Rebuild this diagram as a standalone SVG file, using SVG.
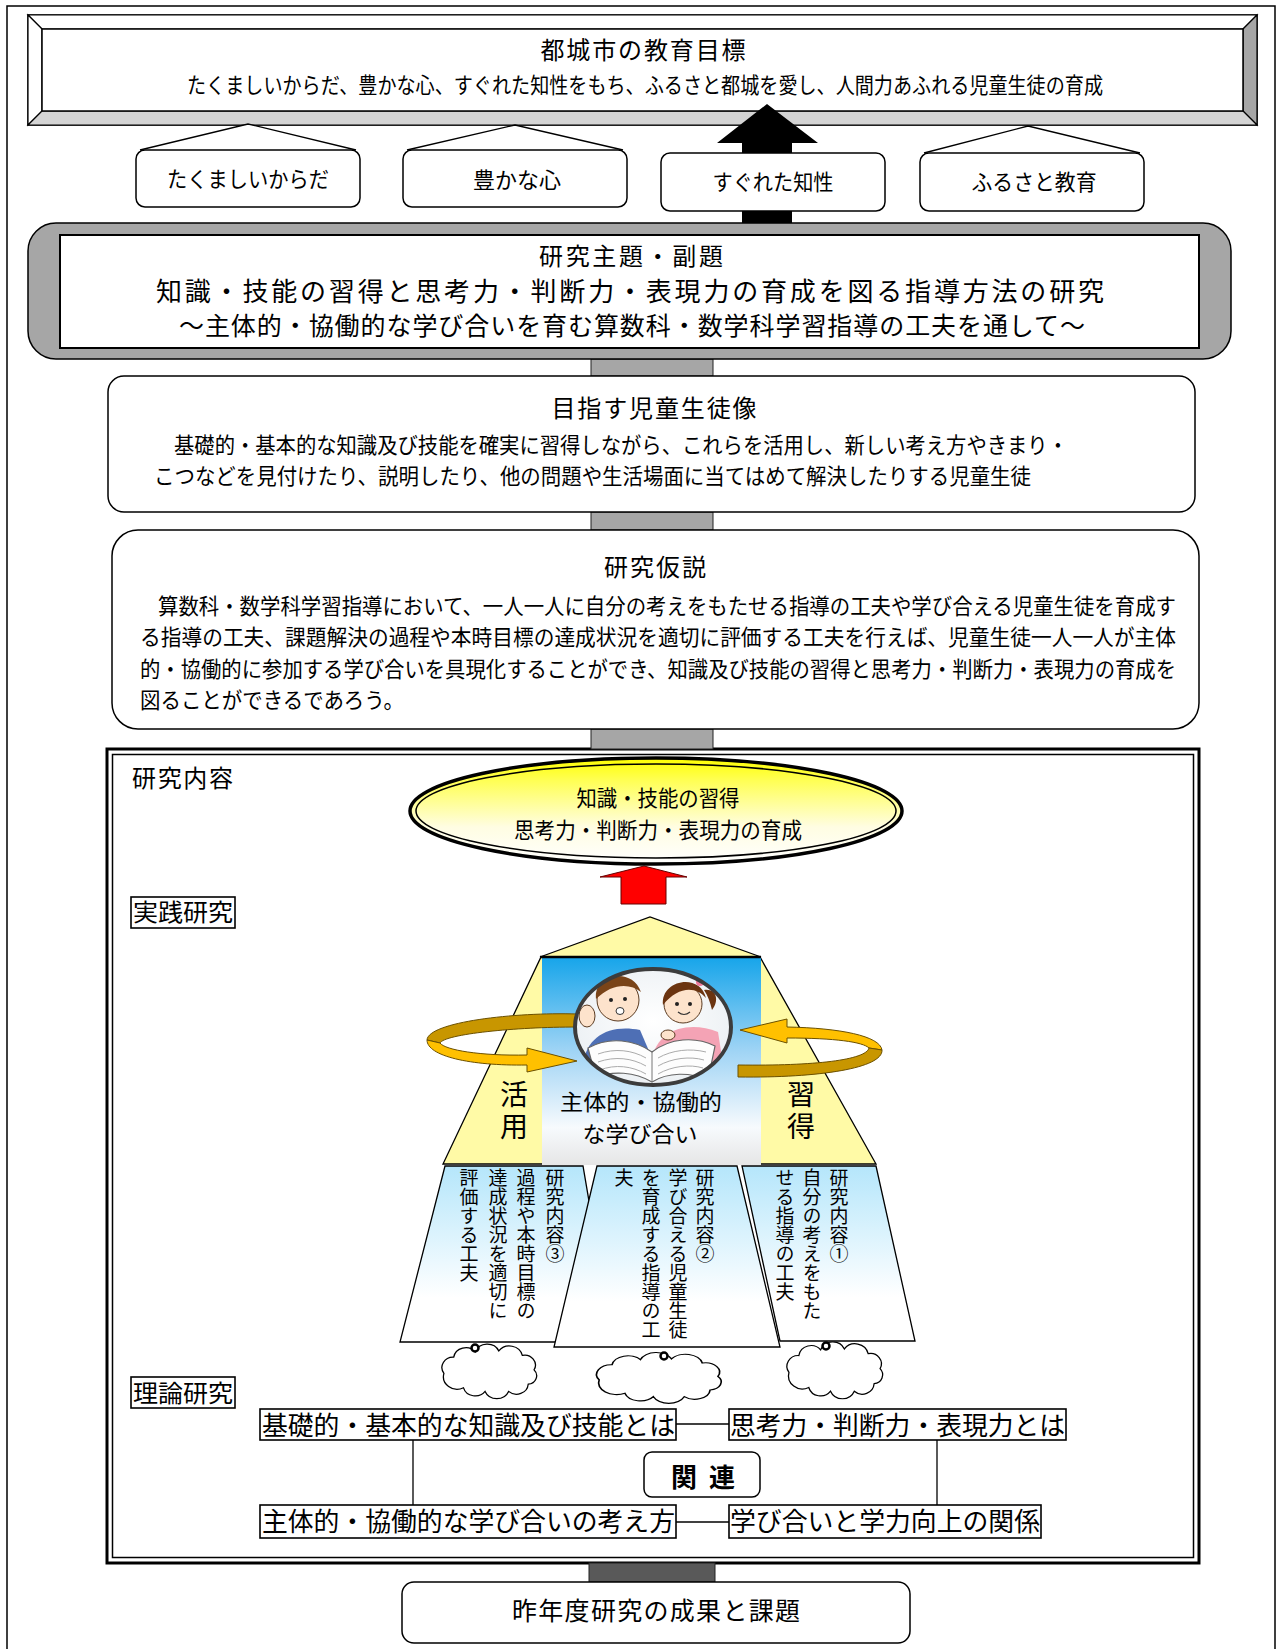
<svg xmlns="http://www.w3.org/2000/svg" width="1281" height="1649" viewBox="0 0 1281 1649">
<defs>
  <style>
    text { font-family: "Noto Sans CJK JP", "Noto Sans", sans-serif; fill: #000; }
    .c { text-anchor: middle; dominant-baseline: central; }
    .s { text-anchor: start; dominant-baseline: central; }
    .box { fill: #fff; stroke: #000; stroke-width: 1.5; }
    .sq { fill: #fff; stroke: #000; stroke-width: 1.6; }
    .bar { fill: #a6a6a6; stroke: #222; stroke-width: 1; }
    .vt { writing-mode: vertical-rl; font-size: 19px; }
    .vt-big { writing-mode: vertical-rl; font-size: 28px; letter-spacing: 4px; }
    .cloud { fill: #fff; stroke: #000; stroke-width: 1.3; vector-effect: non-scaling-stroke; }
    .dot { fill: #fff; stroke: #000; stroke-width: 2.5; }
    .loop-b { fill: #ffc000; stroke: #6b5000; stroke-width: 1; }
    .loop-d { fill: #c89600; stroke: #6b5000; stroke-width: 1; }
    .line { stroke: #000; stroke-width: 1.3; fill: none; }
  </style>
  <linearGradient id="gYellow" x1="0" y1="0" x2="0" y2="1">
    <stop offset="0" stop-color="#ffff00"/>
    <stop offset="0.2" stop-color="#ffff50"/>
    <stop offset="0.65" stop-color="#fffde2"/>
    <stop offset="1" stop-color="#ffffff"/>
  </linearGradient>
  <linearGradient id="gSky" x1="0" y1="0" x2="0" y2="1">
    <stop offset="0" stop-color="#16a5ea"/>
    <stop offset="0.45" stop-color="#9fd4f5"/>
    <stop offset="0.82" stop-color="#f7fafd"/>
    <stop offset="1" stop-color="#e6e6e6"/>
  </linearGradient>
  <linearGradient id="gBeam" x1="0" y1="0" x2="0" y2="1">
    <stop offset="0" stop-color="#b5e6fb"/>
    <stop offset="0.75" stop-color="#ffffff"/>
  </linearGradient>
  <radialGradient id="gPhoto" cx="0.5" cy="0.45" r="0.6">
    <stop offset="0" stop-color="#ffffff"/>
    <stop offset="1" stop-color="#e9eef2"/>
  </radialGradient>
  <clipPath id="photoClip">
    <ellipse cx="653" cy="1027" rx="78" ry="58"/>
  </clipPath>
  <path id="cloudShape" d="M4,26 A11.5,11.5 0 0 1 14,8 A12.5,12.5 0 0 1 36,2 A13,13 0 0 1 60,1 A13.5,13.5 0 0 1 84,6 A11,11 0 0 1 96,22 A9.5,9.5 0 0 1 90,38 A12,12 0 0 1 70,46 A13,13 0 0 1 46,46 A12.5,12.5 0 0 1 24,42 A14,14 0 0 1 4,26 Z"/>
</defs>

<rect x="0" y="0" width="1281" height="1649" fill="#fff"/>

<!-- page frame -->
<g id="page-frame">
  <path d="M7,1660 V6 H1275 V1660" fill="none" stroke="#000" stroke-width="1.5"/>
</g>

<!-- city education goal (bevelled panel) -->
<g id="goal">
  <rect x="28" y="15" width="1229" height="110" fill="#fff" stroke="#000" stroke-width="1.5"/>
  <polygon points="28,15 1257,15 1243,29 42,29" fill="#fff" stroke="#000" stroke-width="1.2"/>
  <polygon points="28,15 42,29 42,111 28,125" fill="#fff" stroke="#000" stroke-width="1.2"/>
  <polygon points="1257,15 1257,125 1243,111 1243,29" fill="#a6a6a6" stroke="#000" stroke-width="1.2"/>
  <polygon points="28,125 42,111 1243,111 1257,125" fill="#d4d4d4" stroke="#000" stroke-width="1.2"/>
  <rect x="42" y="29" width="1201" height="82" fill="#fff" stroke="#000" stroke-width="1.5"/>
  <text class="c" x="643" y="48" font-size="24" textLength="205">都城市の教育目標</text>
  <text class="c" x="645" y="83" font-size="22" textLength="916" lengthAdjust="spacingAndGlyphs">たくましいからだ、豊かな心、すぐれた知性をもち、ふるさと都城を愛し、人間力あふれる児童生徒の育成</text>
</g>

<!-- research content frame (drawn under its connectors) -->
<g id="research-content">
  <rect x="107" y="749" width="1092" height="814" fill="#fff" stroke="#000" stroke-width="3"/>
  <rect x="112.5" y="754.5" width="1081" height="803" fill="none" stroke="#000" stroke-width="1.5"/>
  <text class="s" x="132" y="776" font-size="24" textLength="101">研究内容</text>
</g>

<!-- connectors -->
<g id="connectors">
  <polygon points="742,224 742,143 717,143 767,104 818,143 792,143 792,224" fill="#000"/>
  <rect class="bar" x="591" y="359" width="122" height="17"/>
  <rect class="bar" x="591" y="512" width="122" height="18"/>
  <rect class="bar" x="591" y="729" width="122" height="20"/>
  <rect x="589" y="1563" width="126" height="19" fill="#595959" stroke="#222" stroke-width="1"/>
  <polygon points="621,904 621,877 600,877 644,866 687,877 666,877 666,904" fill="#ff0000" stroke="#600" stroke-width="1"/>
  <path class="line" d="M676,1424 H729"/>
  <path class="line" d="M676,1522 H729"/>
  <path class="line" d="M413,1440 V1505"/>
  <path class="line" d="M937,1440 V1505"/>
</g>

<!-- four pillars -->
<g id="pillar-body">
  <polyline points="140,150 248,124 356,150" fill="#fff" stroke="#000" stroke-width="1.3"/>
  <rect class="box" x="136" y="150" width="224" height="57" rx="9"/>
  <text class="c" x="248" y="177" font-size="22" textLength="162" lengthAdjust="spacingAndGlyphs">たくましいからだ</text>
</g>
<g id="pillar-heart">
  <polyline points="407,150 515,125 623,150" fill="#fff" stroke="#000" stroke-width="1.3"/>
  <rect class="box" x="403" y="150" width="224" height="57" rx="9"/>
  <text class="c" x="517" y="178" font-size="22" textLength="88">豊かな心</text>
</g>
<g id="pillar-intellect">
  <rect class="box" x="661" y="153" width="224" height="58" rx="9"/>
  <text class="c" x="773" y="180" font-size="22" textLength="121" lengthAdjust="spacingAndGlyphs">すぐれた知性</text>
</g>
<g id="pillar-hometown">
  <polyline points="924,153 1028,126 1140,153" fill="#fff" stroke="#000" stroke-width="1.3"/>
  <rect class="box" x="920" y="153" width="224" height="58" rx="9"/>
  <text class="c" x="1034" y="180" font-size="22" textLength="125" lengthAdjust="spacingAndGlyphs">ふるさと教育</text>
</g>

<!-- research theme -->
<g id="theme">
  <rect x="28" y="223" width="1203" height="136" rx="28" fill="#a6a6a6" stroke="#000" stroke-width="1.5"/>
  <rect x="60" y="235" width="1139" height="113" fill="#fff" stroke="#000" stroke-width="2"/>
  <text class="c" x="631" y="254" font-size="24" textLength="184">研究主題・副題</text>
  <text class="c" x="630" y="289" font-size="26" textLength="948">知識・技能の習得と思考力・判断力・表現力の育成を図る指導方法の研究</text>
  <text class="c" x="632" y="324" font-size="25" textLength="906">〜主体的・協働的な学び合いを育む算数科・数学科学習指導の工夫を通して〜</text>
</g>

<!-- target student image -->
<g id="target-student">
  <rect class="box" x="108" y="376" width="1087" height="136" rx="16"/>
  <text class="c" x="654" y="406" font-size="24" textLength="205">目指す児童生徒像</text>
  <text class="s" x="174" y="443" font-size="22" textLength="894" lengthAdjust="spacingAndGlyphs">基礎的・基本的な知識及び技能を確実に習得しながら、これらを活用し、新しい考え方やきまり・</text>
  <text class="s" x="154" y="474" font-size="22" textLength="877" lengthAdjust="spacingAndGlyphs">こつなどを見付けたり、説明したり、他の問題や生活場面に当てはめて解決したりする児童生徒</text>
</g>

<!-- research hypothesis -->
<g id="hypothesis">
  <rect class="box" x="112" y="530" width="1087" height="199" rx="26"/>
  <text class="c" x="655" y="565" font-size="24" textLength="102">研究仮説</text>
  <text class="s" x="158" y="604" font-size="22" textLength="1018" lengthAdjust="spacingAndGlyphs">算数科・数学科学習指導において、一人一人に自分の考えをもたせる指導の工夫や学び合える児童生徒を育成す</text>
  <text class="s" x="140" y="635" font-size="22" textLength="1036" lengthAdjust="spacingAndGlyphs">る指導の工夫、課題解決の過程や本時目標の達成状況を適切に評価する工夫を行えば、児童生徒一人一人が主体</text>
  <text class="s" x="140" y="667" font-size="22" textLength="1036" lengthAdjust="spacingAndGlyphs">的・協働的に参加する学び合いを具現化することができ、知識及び技能の習得と思考力・判断力・表現力の育成を</text>
  <text class="s" x="140" y="698" font-size="22" textLength="264" lengthAdjust="spacingAndGlyphs">図ることができるであろう。</text>
</g>

<!-- goal ellipse -->
<g id="outcome">
  <ellipse cx="656" cy="811" rx="246" ry="53" fill="url(#gYellow)" stroke="#000" stroke-width="3.5"/>
  <ellipse cx="656" cy="811" rx="240" ry="47" fill="none" stroke="#000" stroke-width="1.5"/>
  <text class="c" x="658" y="796" font-size="22" textLength="163" lengthAdjust="spacingAndGlyphs">知識・技能の習得</text>
  <text class="c" x="658" y="828" font-size="22" textLength="288" lengthAdjust="spacingAndGlyphs">思考力・判断力・表現力の育成</text>
</g>

<!-- practical research label -->
<g id="practice-label">
  <rect x="131" y="897" width="104" height="31" fill="#fff" stroke="#000" stroke-width="1.6"/>
  <text class="s" x="133" y="910.5" font-size="24" textLength="100" lengthAdjust="spacingAndGlyphs">実践研究</text>
</g>

<!-- learning house -->
<g id="learning-house">
  <polygon points="541,957 760,957 876,1164 443,1164" fill="#fffaa6" stroke="#000" stroke-width="1.3"/>
  <rect x="542" y="957" width="219" height="208" fill="url(#gSky)"/>
  <polygon points="540,957 650,917 761,957" fill="#fffaa6" stroke="#000" stroke-width="1.3"/>
  <line x1="540" y1="957" x2="761" y2="957" stroke="#000" stroke-width="2.5"/>
  <!-- cycle arrows -->
  <path class="loop-d" d="M577,1014 C515,1012 428,1022 427,1040 L440,1043 C445,1034 515,1027 577,1027 Z"/>
  <path class="loop-b" d="M427,1040 C427,1056 470,1066 527,1065 L527,1072 L577,1061 L527,1048 L527,1055 C480,1056 445,1050 440,1043 Z"/>
  <path class="loop-b" d="M787,1027 C840,1028 880,1036 882,1050 L869,1048 C863,1042 835,1038 787,1038 L787,1043 L740,1030 L787,1019 Z"/>
  <path class="loop-d" d="M882,1050 C883,1068 820,1078 738,1077 L738,1065 C815,1066 866,1060 869,1048 Z"/>
  <!-- children reading -->
  <g clip-path="url(#photoClip)">
    <rect x="570" y="965" width="166" height="125" fill="url(#gPhoto)"/>
    <path d="M583,1065 C586,1036 610,1024 640,1030 L655,1065 Z" fill="#4e6fb5"/>
    <path d="M652,1060 C656,1030 688,1020 718,1032 L724,1070 Z" fill="#f4a3b5"/>
    <circle cx="618" cy="1000" r="21" fill="#fde3cc" stroke="#5a3a20" stroke-width="1"/>
    <path d="M596,999 C593,974 632,966 641,992 C630,983 612,983 596,999 Z" fill="#7a4418"/>
    <circle cx="611" cy="1000" r="2" fill="#222"/>
    <circle cx="625" cy="999" r="2" fill="#222"/>
    <ellipse cx="620" cy="1011" rx="4" ry="3.5" fill="#fff" stroke="#333" stroke-width="1"/>
    <ellipse cx="587" cy="1016" rx="8" ry="11" fill="#fde3cc" stroke="#5a3a20" stroke-width="1"/>
    <circle cx="683" cy="1004" r="19" fill="#fde3cc" stroke="#5a3a20" stroke-width="1"/>
    <path d="M663,1005 C660,980 700,972 706,998 C696,986 678,986 663,1005 Z" fill="#6b3410"/>
    <path d="M704,990 C716,988 720,1000 712,1010 C710,1002 708,996 704,990 Z" fill="#6b3410"/>
    <circle cx="700" cy="982" r="4" fill="#f07a9a"/>
    <circle cx="677" cy="1004" r="2" fill="#222"/>
    <circle cx="690" cy="1004" r="2" fill="#222"/>
    <path d="M678,1012 Q684,1017 690,1012" fill="none" stroke="#333" stroke-width="1.2"/>
    <ellipse cx="668" cy="1035" rx="7" ry="5" fill="#fde3cc" stroke="#5a3a20" stroke-width="1"/>
    <path d="M588,1048 C610,1036 635,1040 652,1052 C670,1038 695,1036 715,1046 L708,1080 C690,1072 668,1072 652,1082 C635,1072 612,1070 596,1078 Z" fill="#fdfdfd" stroke="#666" stroke-width="1.2"/>
    <path d="M652,1052 L652,1082" stroke="#777" stroke-width="1"/>
    <path d="M598,1054 C615,1048 632,1050 646,1058 M598,1062 C615,1056 632,1058 646,1066 M600,1070 C615,1064 632,1066 646,1074 M658,1058 C672,1050 690,1048 706,1052 M658,1066 C672,1058 690,1056 704,1060 M658,1074 C672,1066 690,1064 703,1068" fill="none" stroke="#aaa" stroke-width="1"/>
  </g>
  <ellipse cx="653" cy="1027" rx="78" ry="58" fill="none" stroke="#3c3c3c" stroke-width="4"/>
  <text class="vt-big" x="514" y="1080">活用</text>
  <text class="vt-big" x="801" y="1080">習得</text>
  <text class="c" x="641" y="1100" font-size="22" textLength="162" lengthAdjust="spacingAndGlyphs">主体的・協働的</text>
  <text class="c" x="640" y="1132" font-size="22" textLength="115" lengthAdjust="spacingAndGlyphs">な学び合い</text>
</g>

<!-- research items (beams) -->
<g id="item-3">
  <polygon points="445,1166 583,1166 613,1342 400,1342" fill="url(#gBeam)" stroke="#000" stroke-width="1.3"/>
  <text class="vt" x="555" y="1168">研究内容③</text>
  <text class="vt" x="526" y="1168">過程や本時目標の</text>
  <text class="vt" x="498" y="1168">達成状況を適切に</text>
  <text class="vt" x="469" y="1168">評価する工夫</text>
</g>
<g id="item-1">
  <polygon points="742,1166 876,1166 915,1341 780,1341" fill="url(#gBeam)" stroke="#000" stroke-width="1.3"/>
  <text class="vt" x="839" y="1168">研究内容①</text>
  <text class="vt" x="812" y="1168">自分の考えをもた</text>
  <text class="vt" x="785" y="1168">せる指導の工夫</text>
</g>
<g id="item-2">
  <polygon points="597,1166 737,1166 780,1347 554,1347" fill="url(#gBeam)" stroke="#000" stroke-width="1.3"/>
  <text class="vt" x="705" y="1168">研究内容②</text>
  <text class="vt" x="678" y="1168">学び合える児童生徒</text>
  <text class="vt" x="651" y="1168">を育成する指導の工</text>
  <text class="vt" x="624" y="1168">夫</text>
</g>

<!-- thought clouds -->
<g id="clouds">
  <use href="#cloudShape" class="cloud" transform="translate(440,1350) scale(0.98,0.9)"/>
  <use href="#cloudShape" class="cloud" transform="translate(594,1358) scale(1.29,0.84)"/>
  <use href="#cloudShape" class="cloud" transform="translate(785,1348) scale(0.99,0.94)"/>
  <circle class="dot" cx="475" cy="1348" r="3.5"/>
  <circle class="dot" cx="664" cy="1356" r="3.5"/>
  <circle class="dot" cx="826" cy="1346" r="3.5"/>
</g>

<!-- theoretical research -->
<g id="theory-label">
  <rect x="131" y="1377" width="104" height="31" fill="#fff" stroke="#000" stroke-width="1.6"/>
  <text class="s" x="133" y="1391.5" font-size="24" textLength="100" lengthAdjust="spacingAndGlyphs">理論研究</text>
</g>
<g id="theory-basics">
  <rect class="sq" x="260" y="1409" width="416" height="31"/>
  <text class="s" x="262" y="1423" font-size="26" textLength="413" lengthAdjust="spacingAndGlyphs">基礎的・基本的な知識及び技能とは</text>
</g>
<g id="theory-thinking">
  <rect class="sq" x="729" y="1409" width="337" height="31"/>
  <text class="s" x="730" y="1423" font-size="26" textLength="335" lengthAdjust="spacingAndGlyphs">思考力・判断力・表現力とは</text>
</g>
<g id="theory-cooperative">
  <rect class="sq" x="260" y="1505" width="416" height="33"/>
  <text class="s" x="262" y="1519" font-size="26" textLength="413" lengthAdjust="spacingAndGlyphs">主体的・協働的な学び合いの考え方</text>
</g>
<g id="theory-achievement">
  <rect class="sq" x="729" y="1505" width="312" height="33"/>
  <text class="s" x="730" y="1519" font-size="26" textLength="310" lengthAdjust="spacingAndGlyphs">学び合いと学力向上の関係</text>
</g>
<g id="relation">
  <rect class="box" x="644" y="1452" width="116" height="45" rx="8"/>
  <text class="c" x="684" y="1475" font-size="26" font-weight="bold">関</text>
  <text class="c" x="722" y="1475" font-size="26" font-weight="bold">連</text>
</g>

<!-- previous year's results -->
<g id="previous-year">
  <rect class="box" x="402" y="1582" width="508" height="61" rx="12"/>
  <text class="c" x="656" y="1609" font-size="25" textLength="288">昨年度研究の成果と課題</text>
</g>
</svg>
